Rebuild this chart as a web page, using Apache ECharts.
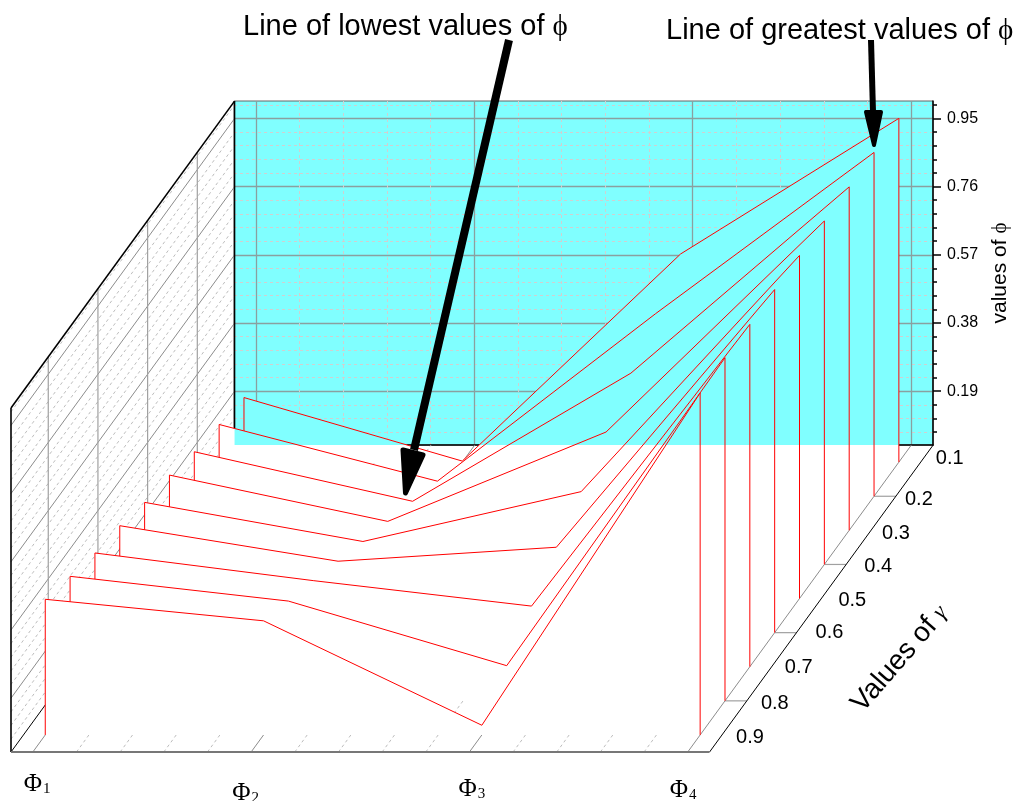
<!DOCTYPE html>
<html><head><meta charset="utf-8">
<style>html,body{margin:0;padding:0;background:#fff}#c{width:1016px;height:801px}</style>
<script src="https://cdn.jsdelivr.net/npm/echarts@6/dist/echarts.min.js"></script>
</head><body><div id="c"></div>
<script>
const gammas = [0.1,0.2,0.3,0.4,0.5,0.6,0.7,0.8,0.9];
const phi1Values = [0.220,0.240,0.259,0.289,0.308,0.338,0.357,0.387,0.418];
const phi2Values = [0.043,0.082,0.121,0.160,0.199,0.239,0.280,0.318,0.358];
const phi3Values = [0.620,0.549,0.478,0.409,0.338,0.278,0.209,0.138,0.067];
const phi4Values = [0.998,0.998,0.997,0.997,0.996,0.996,0.994,0.996,0.993];
const phiPositions = [1,2,3,4];
const phiMinor = [1.2,1.4,1.6,1.8,2.2,2.4,2.6,2.8,3.2,3.4,3.6,3.8];
const phiNames = ['1','2','3','4'];
const valueMajor = [0.19,0.38,0.57,0.76,0.95];
const valueMinor = [0.076,0.114,0.152,0.228,0.266,0.304,0.342,0.418,0.456,0.494,0.532,0.608,0.646,0.684,0.722,0.798,0.836,0.874,0.912,0.988];
const gammaMajor = [0.2,0.4,0.6,0.8];
const gammaLabelNudgeX = [29,23,25,32,31,33,27,28,28];
const gammaLabelNudgeY = [-4,3,3,2,2,0,1,3,3];
const phiLabelNudgeX = [-9,-19,-11,-18];
const phiLabelNudgeY = [32,41,37,38];

const PHI_MIN=0.9, PHI_MAX=4.1, V_MIN=0.04, V_MAX=0.9985, G_FRONT=0.95, G_BACK=0.05;
const KX=1.1379, KY=0.9501;
const proj=(p,g,v)=>[p+(G_FRONT-g)*KX, v+(G_FRONT-g)*KY];
const SANS='"Liberation Sans",Arial,sans-serif', SERIF='"Liberation Serif","Times New Roman",serif';
const RED='#ff0000', MAJ='#8c8c8c', MINC='#bdbdbd', CYAN='#80ffff';

function seg(api,a,b,stroke,width,dash){
  const p=api.coord(a), q=api.coord(b);
  return {type:'line',shape:{x1:p[0],y1:p[1],x2:q[0],y2:q[1]},
    style:{stroke,lineWidth:width,lineDash:dash||null,fill:null},silent:true};
}
function renderFrame(params,api){
  const ch=[];
  // left wall
  valueMinor.forEach(v=>ch.push(seg(api,proj(PHI_MIN,G_FRONT,v),proj(PHI_MIN,G_BACK,v),MINC,1,[3,3])));
  valueMajor.forEach(v=>ch.push(seg(api,proj(PHI_MIN,G_FRONT,v),proj(PHI_MIN,G_BACK,v),MAJ,1)));
  gammaMajor.forEach(g=>ch.push(seg(api,proj(PHI_MIN,g,V_MIN),proj(PHI_MIN,g,V_MAX),'#a0a0a0',1.2)));
  // floor
  phiMinor.forEach(p=>ch.push(seg(api,proj(p,G_FRONT,V_MIN),proj(p,G_BACK,V_MIN),MINC,1,[3,3])));
  phiPositions.forEach(p=>ch.push(seg(api,proj(p,G_FRONT,V_MIN),proj(p,G_BACK,V_MIN),MAJ,1)));
  gammaMajor.forEach(g=>ch.push(seg(api,proj(phiPositions[3],g,V_MIN),proj(PHI_MAX,g,V_MIN),'#a0a0a0',1.2)));
  // edges
  ch.push(seg(api,proj(PHI_MIN,G_BACK,V_MIN),proj(PHI_MIN,G_BACK,V_MAX),'#000',1.5));
  ch.push(seg(api,proj(PHI_MIN,G_FRONT,V_MIN),proj(PHI_MIN,G_BACK,V_MIN),'#000',1));
  ch.push(seg(api,proj(PHI_MAX,G_FRONT,V_MIN),proj(PHI_MAX,G_BACK,V_MIN),'#000',1));
  ch.push(seg(api,proj(PHI_MIN,G_FRONT,V_MAX),proj(PHI_MIN,G_BACK,V_MAX),'#000',1.6));
  ch.push(seg(api,proj(PHI_MIN,G_FRONT,V_MIN),proj(PHI_MIN,G_FRONT,V_MAX),'#000',1.6));
  ch.push(seg(api,proj(PHI_MIN,G_FRONT,V_MIN),proj(PHI_MAX,G_FRONT,V_MIN),'#777',2));
  return {type:'group',children:ch};
}
function renderCurve(params,api){
  const i=params.dataIndex, g=gammas[i];
  const vals=[phi1Values[i],phi2Values[i],phi3Values[i],phi4Values[i]];
  const top=phiPositions.map((p,k)=>api.coord(proj(p,g,vals[k])));
  const b0=api.coord(proj(phiPositions[0],g,V_MIN)), b1=api.coord(proj(phiPositions[3],g,V_MIN));
  const outline=[b0,...top,b1];
  // the sheets hide the wall grid; the wall colour still shows through inside the wall rectangle
  const w0=api.coord(proj(PHI_MIN,G_BACK,V_MAX)), w1=api.coord(proj(PHI_MAX,G_BACK,V_MIN));
  return {type:'group',children:[
    {type:'polygon',shape:{points:outline},style:{fill:'#fff',stroke:null},silent:true},
    {type:'polygon',shape:{points:outline},style:{fill:CYAN,stroke:null},silent:true,
      clipPath:{type:'rect',shape:{x:w0[0],y:w0[1],width:w1[0]-w0[0],height:w1[1]-w0[1]}}},
    {type:'polyline',shape:{points:outline},style:{fill:null,stroke:RED,lineWidth:1},silent:true}
  ]};
}
function renderLabels(params,api){
  const ch=[];
  gammas.forEach((g,i)=>{
    const c=api.coord(proj(PHI_MAX,g,V_MIN));
    ch.push({type:'text',x:c[0]+gammaLabelNudgeX[i],y:c[1]+gammaLabelNudgeY[i],
      style:{text:g.toFixed(1),font:'20px '+SANS,fill:'#000',align:'center',verticalAlign:'middle'}});
  });
  phiPositions.forEach((p,i)=>{
    const c=api.coord(proj(p,G_FRONT,V_MIN));
    ch.push({type:'text',x:c[0]+phiLabelNudgeX[i],y:c[1]+phiLabelNudgeY[i],
      style:{text:'{a|Φ}{b|'+phiNames[i]+'}',align:'left',verticalAlign:'middle',
        rich:{a:{fontFamily:SERIF,fontSize:25,fill:'#000',lineHeight:26,verticalAlign:'middle'},
              b:{fontFamily:SERIF,fontSize:15,fill:'#000',lineHeight:26,verticalAlign:'bottom',padding:[0,0,0,1]}}}});
  });
  const e=api.coord(proj(PHI_MAX,0.55,V_MIN));
  ch.push({type:'text',x:e[0]+91,y:e[1]+43,rotation:49*Math.PI/180,
    style:{text:'Values of {g|γ}',align:'center',verticalAlign:'middle',fontFamily:SANS,fontSize:28,fill:'#000',
      rich:{g:{fontFamily:SERIF,fontStyle:'italic',fontSize:23,fill:'#000'}}}});
  return {type:'group',children:ch};
}
const chart=echarts.init(document.getElementById('c'),null,{renderer:'canvas'});
const hiddenAxis={show:false,type:'value'};
chart.setOption({
  animation:false,
  backgroundColor:'#fff',
  grid:[
    {left:11,top:101,width:922,height:651,containLabel:false,outerBoundsMode:'none'},
    {left:234,top:101,width:699,height:344,show:true,backgroundColor:CYAN,borderColor:'#666',borderWidth:1,containLabel:false,outerBoundsMode:'none'}
  ],
  xAxis:[
    {...hiddenAxis,gridIndex:0,min:PHI_MIN,max:PHI_MIN+922/218.3},
    {type:'value',gridIndex:1,min:PHI_MIN,max:PHI_MAX,position:'bottom',axisLine:{show:false,onZero:false},
      axisTick:{show:false,customValues:phiMinor},axisLabel:{show:false},
      splitLine:{show:true,lineStyle:{color:'#d0d0d0',type:[3,3],width:1}}},
    {type:'value',gridIndex:1,min:PHI_MIN,max:PHI_MAX,position:'bottom',
      axisLine:{show:true,onZero:false,lineStyle:{color:'#000',width:1.5}},
      axisTick:{show:false,customValues:phiPositions},axisLabel:{show:false},
      splitLine:{show:true,lineStyle:{color:'#8aa0a0',width:1.3}}}
  ],
  yAxis:[
    {...hiddenAxis,gridIndex:0,min:V_MIN,max:V_MIN+651/358.9},
    {type:'value',gridIndex:1,min:V_MIN,max:V_MAX,position:'right',axisLine:{show:false,onZero:false},
      axisTick:{show:true,length:4,inside:false,customValues:valueMinor,lineStyle:{color:'#000',width:1.5}},
      axisLabel:{show:false},splitLine:{show:true,lineStyle:{color:'#d0d0d0',type:[3,3],width:1}}},
    {type:'value',gridIndex:1,min:V_MIN,max:V_MAX,position:'right',
      axisLine:{show:true,onZero:false,lineStyle:{color:'#000',width:1.5}},
      axisTick:{show:true,length:8,customValues:valueMajor,lineStyle:{color:'#000',width:1.5}},
      axisLabel:{show:true,customValues:valueMajor,formatter:v=>v.toFixed(2),margin:14,color:'#000',fontFamily:SANS,fontSize:16},
      splitLine:{show:true,lineStyle:{color:'#8aa0a0',width:1.3}},
      name:'values of {p|ϕ}',nameLocation:'middle',nameGap:57,nameRotate:90,
      nameTextStyle:{color:'#000',fontFamily:SANS,fontSize:21,rich:{p:{fontFamily:SERIF,fontSize:21,color:'#000'}}}}
  ],
  series:[
    {type:'custom',name:'frame',xAxisIndex:0,yAxisIndex:0,z:5,data:[[1,0.5]],renderItem:renderFrame},
    {type:'custom',name:'phi by gamma',xAxisIndex:0,yAxisIndex:0,z:6,data:gammas.map((g,i)=>[phiPositions[0],phi1Values[i]]),renderItem:renderCurve},
    {type:'custom',name:'labels',xAxisIndex:0,yAxisIndex:0,z:7,data:[[1,0.5]],renderItem:renderLabels}
  ],
  graphic:[
    {type:'text',z:100,x:243,y:27,style:{text:'Line of lowest values of {p|ϕ}',verticalAlign:'middle',fontFamily:SANS,fontSize:29,fill:'#000',rich:{p:{fontFamily:SERIF,fontSize:29,fill:'#000'}}}},
    {type:'text',z:100,x:666,y:31,style:{text:'Line of greatest values of {p|ϕ}',verticalAlign:'middle',fontFamily:SANS,fontSize:29,fill:'#000',rich:{p:{fontFamily:SERIF,fontSize:29,fill:'#000'}}}},
    {type:'line',z:100,shape:{x1:509,y1:40,x2:414,y2:450},style:{stroke:'#000',lineWidth:8}},
    {type:'polygon',z:100,shape:{points:[[403,450],[423,455],[405.5,493]]},style:{fill:'#000',stroke:'#000',lineWidth:5,lineJoin:'round'}},
    {type:'line',z:100,shape:{x1:871,y1:40,x2:873,y2:112},style:{stroke:'#000',lineWidth:6}},
    {type:'polygon',z:100,shape:{points:[[866,112],[881,112],[874,145]]},style:{fill:'#000',stroke:'#000',lineWidth:4,lineJoin:'round'}}
  ]
});
</script></body></html>
